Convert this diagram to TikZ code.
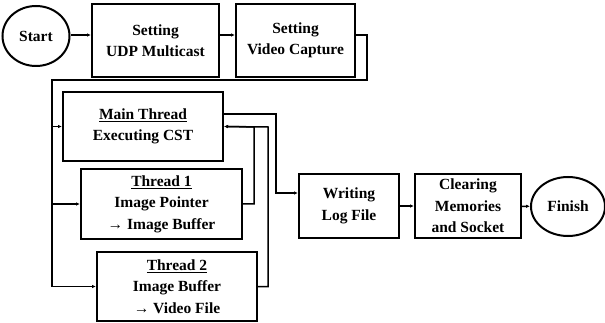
\documentclass[tikz,border=0pt]{standalone}
\usepackage{fontspec}
\setmainfont{Liberation Serif}
\usetikzlibrary{shapes.geometric,arrows.meta}

\begin{document}
\begin{tikzpicture}[x=1pt,y=-1pt,
  txt/.style={align=center,inner sep=0pt,font=\fontsize{15.5}{21.5}\selectfont\bfseries},
  box/.style={txt,draw,rectangle,line width=2pt},
  term/.style={txt,draw,ellipse,line width=2pt},
  link/.style={line width=1.5pt,-{Latex[length=4pt,width=3.5pt]}}]
\useasboundingbox (0,0) rectangle (605,323);
\node[term,minimum width=67pt,minimum height=60pt] (start) at (36,36) {Start};
\node[box,minimum width=127pt,minimum height=73pt] (udp) at (155.5,40.5) {Setting\\UDP Multicast};
\node[box,minimum width=119pt,minimum height=73pt] (video) at (295.5,40.5) {Setting\\Video Capture};
\node[box,minimum width=160pt,minimum height=69pt] (main) at (143,126.5) {\underline{Main Thread}\\Executing CST};
\node[box,minimum width=161pt,minimum height=70pt] (t1) at (161.5,204) {\underline{Thread 1}\\Image Pointer\\→ Image Buffer};
\node[box,minimum width=160pt,minimum height=69pt] (t2) at (177,286.5) {\underline{Thread 2}\\Image Buffer\\→ Video File};
\node[box,minimum width=100pt,minimum height=64pt] (log) at (349,206) {Writing\\Log File};
\node[box,minimum width=106pt,minimum height=64pt] (clear) at (468,206) {Clearing\\Memories\\and Socket};
\node[term,minimum width=74pt,minimum height=59pt] (finish) at (568,206.5) {Finish};
\coordinate (c1) at (367,80);
\coordinate (c2) at (52,80);
\coordinate (m1) at (276,114);
\coordinate (r1) at (254,127);
\coordinate (r2) at (268,127);
\draw[link] (start.east |- 0,35) -- (udp.west |- 0,35);
\draw[link] (udp.east |- 0,35) -- (video.west |- 0,35);
\draw[link] (video.east |- 0,35) -| (c1) -- (c2) |- (t2.west);
\draw[link] (c2 |- main.west) -- (main.west);
\draw[link] (c2 |- t1.west) -- (t1.west);
\draw[link] (main.east |- m1) -- (m1) |- ([yshift=13pt]log.west);
\draw[link] (t1.east) -| (r1) -- (main.east);
\draw[link] (t2.east) -| (r2) -- (main.east);
\draw[link] (log) -- (clear);
\draw[link] (clear) -- (finish);
\end{tikzpicture}
\end{document}
